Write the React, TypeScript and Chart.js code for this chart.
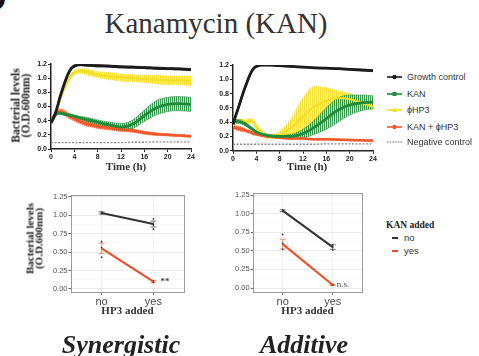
import React, { useEffect, useRef } from 'react';
import { Chart, registerables } from 'chart.js';
Chart.register(...registerables);

// ---------- Data: time courses (hours) ----------
const TIMES = [0, 0.5, 1, 1.5, 2, 2.5, 3, 3.5, 4, 5, 6, 7, 8, 10, 12, 14, 16, 18, 20, 22, 24];
const X_TICKS_TOP = [0, 4, 8, 12, 16, 20, 24];
const Y_TICKS_TOP = [0, 0.2, 0.4, 0.6, 0.8, 1.0, 1.2];

// Panel 1 (synergistic)
const P1_GC = [0.37, 0.45, 0.57, 0.72, 0.85, 0.97, 1.07, 1.14, 1.17, 1.19, 1.185, 1.18, 1.175, 1.17, 1.16, 1.155, 1.15, 1.14, 1.135, 1.13, 1.12];
const P1_GC_ERR = [0.01, 0.02, 0.03, 0.03, 0.03, 0.03, 0.02, 0.02, 0.02, 0.015, 0.015, 0.015, 0.015, 0.015, 0.015, 0.015, 0.015, 0.015, 0.015, 0.015, 0.015];
const P1_KAN = [0.37, 0.45, 0.5, 0.51, 0.5, 0.49, 0.48, 0.47, 0.46, 0.44, 0.42, 0.4, 0.38, 0.34, 0.31, 0.35, 0.47, 0.58, 0.63, 0.64, 0.63];
const P1_KAN_ERR = [0.01, 0.02, 0.02, 0.02, 0.02, 0.02, 0.02, 0.02, 0.02, 0.02, 0.03, 0.03, 0.03, 0.04, 0.05, 0.06, 0.08, 0.1, 0.1, 0.1, 0.1];
const P1_HP3 = [0.37, 0.44, 0.55, 0.68, 0.8, 0.9, 0.98, 1.04, 1.08, 1.1, 1.09, 1.07, 1.05, 1.03, 1.01, 1.0, 0.99, 0.98, 0.97, 0.97, 0.96];
const P1_HP3_ERR = [0.01, 0.02, 0.02, 0.03, 0.03, 0.03, 0.03, 0.03, 0.03, 0.03, 0.04, 0.04, 0.04, 0.05, 0.05, 0.05, 0.05, 0.06, 0.06, 0.06, 0.07];
const P1_COMBO = [0.37, 0.47, 0.52, 0.53, 0.52, 0.5, 0.47, 0.45, 0.43, 0.39, 0.36, 0.34, 0.32, 0.3, 0.28, 0.26, 0.23, 0.21, 0.2, 0.19, 0.18];
const P1_COMBO_ERR = [0.01, 0.02, 0.03, 0.035, 0.035, 0.035, 0.035, 0.035, 0.035, 0.035, 0.035, 0.03, 0.03, 0.03, 0.03, 0.025, 0.02, 0.02, 0.015, 0.015, 0.015];
const P1_NEG = [0.09, 0.09, 0.09, 0.09, 0.09, 0.09, 0.09, 0.09, 0.09, 0.09, 0.09, 0.09, 0.09, 0.09, 0.09, 0.095, 0.095, 0.1, 0.1, 0.1, 0.1];

// Panel 2 (additive)
const P2_GC = [0.37, 0.5, 0.62, 0.75, 0.87, 0.98, 1.08, 1.15, 1.18, 1.2, 1.2, 1.195, 1.19, 1.18, 1.17, 1.16, 1.155, 1.15, 1.14, 1.13, 1.12];
const P2_GC_ERR = [0.01, 0.02, 0.03, 0.03, 0.03, 0.03, 0.02, 0.02, 0.015, 0.01, 0.01, 0.01, 0.01, 0.01, 0.01, 0.01, 0.01, 0.01, 0.01, 0.01, 0.015];
const P2_KAN = [0.38, 0.41, 0.41, 0.4, 0.38, 0.35, 0.32, 0.29, 0.26, 0.23, 0.21, 0.2, 0.2, 0.2, 0.24, 0.33, 0.45, 0.57, 0.64, 0.67, 0.68];
const P2_KAN_ERR = [0.02, 0.03, 0.03, 0.03, 0.03, 0.02, 0.02, 0.02, 0.02, 0.02, 0.02, 0.02, 0.02, 0.03, 0.06, 0.1, 0.15, 0.17, 0.14, 0.11, 0.09];
const P2_HP3 = [0.35, 0.4, 0.42, 0.42, 0.41, 0.41, 0.42, 0.4, 0.33, 0.24, 0.2, 0.2, 0.22, 0.32, 0.48, 0.62, 0.7, 0.74, 0.72, 0.67, 0.62];
const P2_HP3_ERR = [0.02, 0.02, 0.02, 0.02, 0.02, 0.03, 0.03, 0.03, 0.04, 0.04, 0.03, 0.03, 0.05, 0.13, 0.26, 0.28, 0.18, 0.1, 0.08, 0.06, 0.05];
const P2_COMBO = [0.33, 0.32, 0.31, 0.3, 0.29, 0.27, 0.26, 0.24, 0.23, 0.21, 0.2, 0.19, 0.18, 0.17, 0.17, 0.16, 0.16, 0.155, 0.15, 0.145, 0.14];
const P2_COMBO_ERR = [0.02, 0.03, 0.03, 0.03, 0.02, 0.02, 0.02, 0.02, 0.015, 0.01, 0.01, 0.01, 0.01, 0.01, 0.01, 0.01, 0.01, 0.01, 0.01, 0.01, 0.01];
const P2_NEG = [0.09, 0.09, 0.09, 0.09, 0.09, 0.09, 0.09, 0.09, 0.09, 0.09, 0.09, 0.09, 0.09, 0.09, 0.09, 0.09, 0.095, 0.095, 0.095, 0.095, 0.095];

const SERIES_LABELS = ['Growth control', 'KAN', '\u03D5HP3', 'KAN + \u03D5HP3', 'Negative control'];

// ---------- Data: interaction plots ----------
const HP3_CATS = ['no', 'yes'];
const KAN_LEVELS = ['no', 'yes'];
const Y_TICKS_BOTTOM = [0, 0.25, 0.5, 0.75, 1.0, 1.25];

const SYN_NOKAN = [1.03, 0.88];
const SYN_NOKAN_ERR = [0.015, 0.04];
const SYN_NOKAN_REPS = [[1.04, 1.03, 1.02], [0.95, 0.87, 0.81]];
const SYN_KAN = [0.55, 0.1];
const SYN_KAN_ERR = [0.07, 0.015];
const SYN_KAN_REPS = [[0.64, 0.56, 0.43], [0.1, 0.09, 0.11]];
const SYN_SIG = '**';

const ADD_NOKAN = [1.04, 0.55];
const ADD_NOKAN_ERR = [0.012, 0.03];
const ADD_NOKAN_REPS = [[1.05, 1.04, 1.03], [0.58, 0.55, 0.51]];
const ADD_KAN = [0.59, 0.04];
const ADD_KAN_ERR = [0.065, 0.008];
const ADD_KAN_REPS = [[0.72, 0.6, 0.52], [0.04, 0.04, 0.05]];
const ADD_SIG = 'n.s.';

// ---------- Styles ----------
const C_BLACK = '#1c1c1c';
const C_GREEN = '#1f8b3b';
const C_YELLOW = '#f1de25';
const C_ORANGE = '#f2592a';
const C_NEG = '#8a8a8a';
const C_RED = '#f04b24';
const SANS = "'Liberation Sans', Arial, sans-serif";
const SERIF = "'Liberation Serif', 'Times New Roman', serif";

function stripes(ctx: CanvasRenderingContext2D, strong: string, light: string) {
  const c = document.createElement('canvas');
  c.width = 2;
  c.height = 1;
  const g = c.getContext('2d')!;
  g.fillStyle = light;
  g.fillRect(0, 0, 2, 1);
  g.fillStyle = strong;
  g.fillRect(0, 0, 1, 1);
  return ctx.createPattern(c, 'repeat');
}

type S = { values: number[]; err?: number[]; color: string; strong?: string; light?: string; width: number; dash?: number[]; order: number };

function timeDatasets(ctx: CanvasRenderingContext2D, series: S[]) {
  const out: any[] = [];
  series.forEach((s) => {
    if (s.err) {
      out.push({
        data: TIMES.map((t, i) => ({ x: t, y: s.values[i] - s.err![i] })),
        borderColor: s.strong, borderWidth: 0.6, pointRadius: 0, fill: false,
        cubicInterpolationMode: 'monotone', order: 10 + s.order,
      });
      out.push({
        data: TIMES.map((t, i) => ({ x: t, y: s.values[i] + s.err![i] })),
        borderColor: s.strong, borderWidth: 0.6, pointRadius: 0, fill: '-1',
        backgroundColor: stripes(ctx, s.strong!, s.light!),
        cubicInterpolationMode: 'monotone', order: 10 + s.order,
      });
    }
    out.push({
      data: TIMES.map((t, i) => ({ x: t, y: s.values[i] })),
      borderColor: s.color, borderWidth: s.width, borderDash: s.dash || [], pointRadius: 0,
      fill: false, cubicInterpolationMode: 'monotone', order: s.order,
    });
  });
  return out;
}

function topOptions(yWidth: number, padTop: number, padRight: number, xHeight: number) {
  const tickFont = { family: SANS, size: 7, weight: 'bold' as const };
  return {
    animation: false as const,
    responsive: false,
    maintainAspectRatio: false,
    layout: { padding: { left: 0, top: padTop, right: padRight, bottom: 0 } },
    plugins: { legend: { display: false }, tooltip: { enabled: false } },
    scales: {
      x: {
        type: 'linear' as const, min: 0, max: 24,
        afterBuildTicks: (s: any) => { s.ticks = X_TICKS_TOP.map((v) => ({ value: v })); },
        ticks: { font: tickFont, color: '#222', padding: 1, maxRotation: 0, autoSkip: false },
        grid: { drawOnChartArea: false, drawTicks: true, tickLength: 3, tickColor: '#222', tickWidth: 1 },
        border: { display: true, color: '#222', width: 1.5 },
        afterFit: (s: any) => { s.height = xHeight; },
      },
      y: {
        type: 'linear' as const, min: 0, max: 1.2,
        afterBuildTicks: (s: any) => { s.ticks = Y_TICKS_TOP.map((v) => ({ value: v })); },
        ticks: { font: tickFont, color: '#222', padding: 1, callback: (v: any) => Number(v).toFixed(1) },
        grid: { drawOnChartArea: false, drawTicks: true, tickLength: 3, tickColor: '#222', tickWidth: 1 },
        border: { display: true, color: '#222', width: 1.5 },
        afterFit: (s: any) => { s.width = yWidth; },
      },
    },
  };
}

function TimeChart(props: { left: number; top: number; w: number; h: number; p: any; yWidth: number; padTop: number; padRight: number; xHeight: number }) {
  const ref = useRef<HTMLCanvasElement>(null);
  useEffect(() => {
    const canvas = ref.current!;
    const ctx = canvas.getContext('2d')!;
    const p = props.p;
    const series: S[] = [
      { values: p.neg, color: C_NEG, width: 1.3, dash: [2, 1.5], order: 5 },
      { values: p.combo, err: p.comboErr, color: C_ORANGE, strong: 'rgba(242,89,42,0.85)', light: 'rgba(242,89,42,0.35)', width: 2.5, order: 3 },
      { values: p.hp3, err: p.hp3Err, color: C_YELLOW, strong: 'rgba(238,218,40,0.9)', light: 'rgba(245,232,120,0.35)', width: 2.2, order: 4 },
      { values: p.kan, err: p.kanErr, color: C_GREEN, strong: 'rgba(31,139,59,0.85)', light: 'rgba(80,170,100,0.3)', width: 2.8, order: 2 },
      { values: p.gc, err: p.gcErr, color: C_BLACK, strong: 'rgba(30,30,30,0.8)', light: 'rgba(60,60,60,0.3)', width: 2.8, order: 1 },
    ];
    const chart = new Chart(ctx, {
      type: 'line',
      data: { datasets: timeDatasets(ctx, series) },
      options: topOptions(props.yWidth, props.padTop, props.padRight, props.xHeight) as any,
    });
    return () => chart.destroy();
  }, []);
  return (
    <canvas ref={ref} width={props.w} height={props.h}
      style={{ position: 'absolute', left: props.left, top: props.top, width: props.w, height: props.h }} />
  );
}

const isMajor = (v: number) => Math.abs(v / 0.25 - Math.round(v / 0.25)) < 1e-6;

function InteractionChart(props: {
  left: number; top: number; w: number; h: number;
  noKan: number[]; noKanErr: number[]; noKanReps: number[][];
  kan: number[]; kanErr: number[]; kanReps: number[][];
  sig: string; sigDx: number; sigFont: string;
  padLeft: number; yWidth: number; padTop: number; padRight: number; xHeight: number; yMin: number; yMax: number;
}) {
  const ref = useRef<HTMLCanvasElement>(null);
  useEffect(() => {
    const canvas = ref.current!;
    const ctx = canvas.getContext('2d')!;
    const p = props;
    const allTicks: number[] = [];
    Y_TICKS_BOTTOM.forEach((v, i) => {
      allTicks.push(v);
      if (i < Y_TICKS_BOTTOM.length - 1) allTicks.push((v + Y_TICKS_BOTTOM[i + 1]) / 2);
    });
    const reps = (r: number[][]) => r.flatMap((vals, xi) => vals.map((v) => ({ x: xi, y: v })));
    const bars = [
      ...p.noKan.map((v, i) => ({ x: i, y: v, e: p.noKanErr[i], color: '#7a7a7a' })),
      ...p.kan.map((v, i) => ({ x: i, y: v, e: p.kanErr[i], color: '#f3907c' })),
    ];
    const plugin = {
      id: 'gg',
      beforeDatasetsDraw(chart: any) {
        const { ctx: c, scales } = chart;
        const x = scales.x, y = scales.y;
        c.save();
        bars.forEach((b) => {
          const px = x.getPixelForValue(b.x);
          const y1 = y.getPixelForValue(b.y - b.e);
          const y2 = y.getPixelForValue(b.y + b.e);
          c.strokeStyle = b.color;
          c.lineWidth = 1;
          c.beginPath();
          c.moveTo(px, y1); c.lineTo(px, y2);
          c.moveTo(px - 3, y1); c.lineTo(px + 3, y1);
          c.moveTo(px - 3, y2); c.lineTo(px + 3, y2);
          c.stroke();
        });
        c.restore();
      },
      afterDatasetsDraw(chart: any) {
        const { ctx: c, scales, chartArea: a } = chart;
        const x = scales.x, y = scales.y;
        c.save();
        c.fillStyle = '#444';
        c.font = p.sigFont;
        c.textBaseline = 'middle';
        c.textAlign = 'left';
        c.fillText(p.sig, x.getPixelForValue(1) + p.sigDx, y.getPixelForValue(p.kan[1]));
        c.strokeStyle = '#9a9a9a';
        c.lineWidth = 1;
        c.strokeRect(Math.round(a.left) + 0.5, Math.round(a.top) + 0.5, Math.round(a.right - a.left) - 1, Math.round(a.bottom - a.top) - 1);
        c.restore();
      },
    };
    const chart = new Chart(ctx, {
      type: 'line',
      data: {
        datasets: [
          { data: p.noKan.map((v, i) => ({ x: i, y: v })), borderColor: '#333', borderWidth: 2, pointRadius: 0, order: 1, label: KAN_LEVELS[0] },
          { data: p.kan.map((v, i) => ({ x: i, y: v })), borderColor: C_RED, borderWidth: 2, pointRadius: 0, order: 1, label: KAN_LEVELS[1] },
          { data: reps(p.noKanReps), showLine: false, pointRadius: 0.9, pointBorderWidth: 0, pointBackgroundColor: '#333', order: 2 },
          { data: reps(p.kanReps), showLine: false, pointRadius: 0.9, pointBorderWidth: 0, pointBackgroundColor: '#333', order: 2 },
        ],
      },
      plugins: [plugin],
      options: {
        animation: false,
        responsive: false,
        maintainAspectRatio: false,
        layout: { padding: { left: p.padLeft, top: p.padTop, right: p.padRight, bottom: 0 } },
        plugins: { legend: { display: false }, tooltip: { enabled: false } },
        scales: {
          x: {
            type: 'linear', min: -0.6, max: 1.6,
            afterBuildTicks: (s: any) => { s.ticks = HP3_CATS.map((_, i) => ({ value: i })); },
            ticks: { font: { family: SANS, size: 11 }, color: '#4a4a4a', padding: 0, maxRotation: 0, autoSkip: false,
              callback: (_v: any, i: number) => HP3_CATS[i] },
            grid: { color: '#ebebeb', lineWidth: 0.8, drawTicks: true, tickLength: 2, tickColor: '#444', tickWidth: 0.8 },
            border: { display: false },
            afterFit: (s: any) => { s.height = p.xHeight; },
          },
          y: {
            type: 'linear', min: p.yMin, max: p.yMax,
            afterBuildTicks: (s: any) => { s.ticks = allTicks.map((v) => ({ value: v })); },
            ticks: { font: { family: SANS, size: 7.5 }, color: '#555', padding: 1, autoSkip: false,
              callback: (v: any) => (isMajor(Number(v)) ? Number(v).toFixed(2) : '') },
            grid: {
              color: (c: any) => (c.tick && isMajor(c.tick.value) ? '#e6e6e6' : '#f3f3f3'),
              lineWidth: (c: any) => (c.tick && isMajor(c.tick.value) ? 0.8 : 0.6),
              drawTicks: true, tickLength: 2,
              tickColor: (c: any) => (c.tick && isMajor(c.tick.value) ? '#444' : 'rgba(0,0,0,0)'),
              tickWidth: 0.8,
            },
            border: { display: false },
            afterFit: (s: any) => { s.width = p.yWidth; },
          },
        },
      } as any,
    });
    return () => chart.destroy();
  }, []);
  return (
    <canvas ref={ref} width={props.w} height={props.h}
      style={{ position: 'absolute', left: props.left, top: props.top, width: props.w, height: props.h }} />
  );
}

function Txt(props: { x: number; y: number; text: string; font: string; color?: string; w?: number }) {
  const w = props.w || 200;
  return (
    <div style={{ position: 'absolute', left: props.x - w / 2, top: props.y - 10, width: w, height: 20, lineHeight: '20px',
      textAlign: 'center', font: props.font, color: props.color || '#333', whiteSpace: 'nowrap' }}>{props.text}</div>
  );
}

function VTitle(props: { cx: number; cy: number; lines: string[]; font: string; lh: number }) {
  const w = 140, h = props.lh * props.lines.length;
  return (
    <div style={{ position: 'absolute', left: props.cx - w / 2, top: props.cy - h / 2, width: w, height: h,
      transform: 'rotate(-90deg)', textAlign: 'center', font: props.font, lineHeight: props.lh + 'px', color: '#222', whiteSpace: 'nowrap' }}>
      {props.lines.map((l, i) => <div key={i}>{l}</div>)}
    </div>
  );
}

function LegendMark(props: { kind: string; color: string }) {
  const { kind, color } = props;
  return (
    <svg width={15} height={8} style={{ position: 'absolute', left: 0, top: 0 }}>
      {kind === 'dot-line'
        ? <line x1={0} y1={4} x2={15} y2={4} stroke={color} strokeWidth={1.3} strokeDasharray="1.5,1.2" />
        : <line x1={0} y1={4} x2={15} y2={4} stroke={color} strokeWidth={1.6} />}
      {kind === 'circle' && <circle cx={7.5} cy={4} r={2.2} fill={color} />}
      {kind === 'square' && <rect x={5.5} y={2} width={4} height={4} fill={color} />}
      {kind === 'triangle' && <polygon points="7.5,1.5 10,6 5,6" fill={color} />}
    </svg>
  );
}

export default function App() {
  useEffect(() => { document.body.style.margin = '0'; }, []);
  const p1 = { gc: P1_GC, gcErr: P1_GC_ERR, kan: P1_KAN, kanErr: P1_KAN_ERR, hp3: P1_HP3, hp3Err: P1_HP3_ERR, combo: P1_COMBO, comboErr: P1_COMBO_ERR, neg: P1_NEG };
  const p2 = { gc: P2_GC, gcErr: P2_GC_ERR, kan: P2_KAN, kanErr: P2_KAN_ERR, hp3: P2_HP3, hp3Err: P2_HP3_ERR, combo: P2_COMBO, comboErr: P2_COMBO_ERR, neg: P2_NEG };
  const legendItems = [
    { kind: 'circle', color: C_BLACK },
    { kind: 'square', color: C_GREEN },
    { kind: 'triangle', color: C_YELLOW },
    { kind: 'circle', color: C_ORANGE },
    { kind: 'dot-line', color: '#9a9a9a' },
  ];
  return (
    <div style={{ position: 'absolute', left: 0, top: 0, width: 479, height: 356, overflow: 'hidden', background: '#fff' }}>
      <div style={{ position: 'absolute', left: -17, top: -19, font: `bold 32px ${SANS}`, color: '#111' }}>D</div>
      <div style={{ position: 'absolute', left: 16, top: 9, width: 400, textAlign: 'center', font: `29px ${SERIF}`, lineHeight: '29px', color: '#333' }}>
        Kanamycin (KAN)
      </div>

      <TimeChart left={0} top={55} w={200} h={130} p={p1} yWidth={51} padTop={9} padRight={9} xHeight={36} />
      <TimeChart left={200} top={55} w={180} h={130} p={p2} yWidth={33} padTop={10} padRight={7} xHeight={34.3} />

      <VTitle cx={21} cy={105} lines={['Bacterial levels', '(O.D.600nm)']} font={`bold 11.5px ${SERIF}`} lh={9.5} />
      <Txt x={126} y={170} text="Time (h)" font={`bold 11px ${SERIF}`} />
      <Txt x={307} y={170} text="Time (h)" font={`bold 11px ${SERIF}`} />

      {SERIES_LABELS.map((l, i) => (
        <div key={l} style={{ position: 'absolute', left: 387, top: [77.3, 93.5, 110, 127, 141.5][i] - 6, height: 12, width: 92 }}>
          <div style={{ position: 'absolute', left: 0, top: 2 }}><LegendMark kind={legendItems[i].kind} color={legendItems[i].color} /></div>
          <div style={{ position: 'absolute', left: 20, top: 0, font: `9px ${SANS}`, lineHeight: '12px', color: '#333', whiteSpace: 'nowrap' }}>{l}</div>
        </div>
      ))}

      <InteractionChart left={0} top={185} w={200} h={140}
        noKan={SYN_NOKAN} noKanErr={SYN_NOKAN_ERR} noKanReps={SYN_NOKAN_REPS}
        kan={SYN_KAN} kanErr={SYN_KAN_ERR} kanReps={SYN_KAN_REPS}
        sig={SYN_SIG} sigDx={7} sigFont={`bold 9px ${SERIF}`}
        padLeft={40} yWidth={30.5} padTop={10} padRight={15.5} xHeight={32} yMin={-0.055} yMax={1.273} />
      <InteractionChart left={200} top={185} w={180} h={140}
        noKan={ADD_NOKAN} noKanErr={ADD_NOKAN_ERR} noKanReps={ADD_NOKAN_REPS}
        kan={ADD_KAN} kanErr={ADD_KAN_ERR} kanReps={ADD_KAN_REPS}
        sig={ADD_SIG} sigDx={4} sigFont={`9px ${SERIF}`}
        padLeft={30} yWidth={22.7} padTop={8} padRight={17.3} xHeight={32} yMin={-0.067} yMax={1.277} />

      <VTitle cx={34} cy={238} lines={['Bacterial levels', '(O.D.600nm)']} font={`bold 11px ${SERIF}`} lh={8.5} />
      <Txt x={127.5} y={314} text="HP3 added" font={`bold 11px ${SERIF}`} />
      <Txt x={307.5} y={314} text="HP3 added" font={`bold 11px ${SERIF}`} />

      <div style={{ position: 'absolute', left: 386, top: 219, font: `bold 9.5px ${SERIF}`, lineHeight: '12px', color: '#222', whiteSpace: 'nowrap' }}>KAN added</div>
      {KAN_LEVELS.map((l, i) => (
        <div key={l} style={{ position: 'absolute', left: 392, top: [237.5, 250.7][i] - 6, height: 12 }}>
          <div style={{ position: 'absolute', left: 0, top: 5, width: 6, height: 2, background: i === 0 ? '#333' : C_RED }} />
          <div style={{ position: 'absolute', left: 12, top: 0, font: `9.5px ${SANS}`, lineHeight: '12px', color: '#333', whiteSpace: 'nowrap' }}>{l}</div>
        </div>
      ))}

      <Txt x={121} y={340} text="Synergistic" font={`italic bold 26px ${SERIF}`} color="#222" />
      <Txt x={304} y={340} text="Additive" font={`italic bold 26px ${SERIF}`} color="#222" />
    </div>
  );
}
